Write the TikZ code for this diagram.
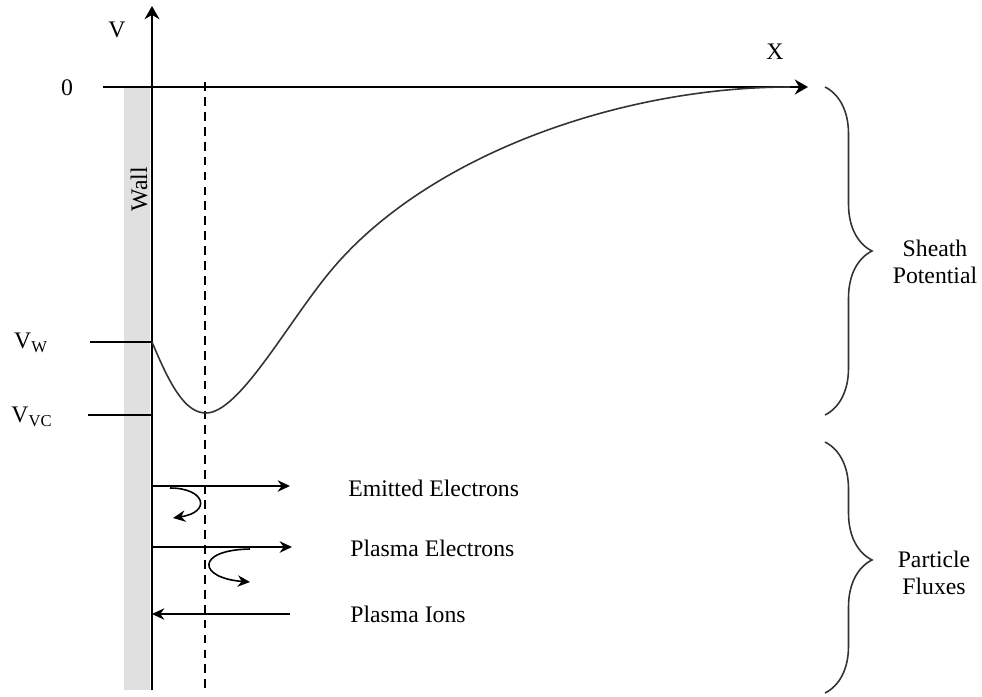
\documentclass[tikz,border=0pt]{standalone}
\usepackage{fontspec}
\setmainfont{Liberation Serif}
\usepackage{tikz}
\usetikzlibrary{arrows.meta, positioning, decorations.pathreplacing, calc}
\definecolor{wallgray}{HTML}{E0E0E0}
\definecolor{curvegray}{HTML}{333333}

\begin{document}
\begin{tikzpicture}[x=0.02cm, y=-0.02cm, font=\fontsize{13.5}{15}\selectfont,
  axis/.style={line width=1.7pt, -{Stealth[length=7.5pt, width=8.5pt]}},
  flux/.style={line width=1.1pt, -{Stealth[length=7pt, width=6.5pt]}},
  tick/.style={line width=1.1pt},
  bracebig/.style={decorate, decoration={brace, amplitude=0.94cm, aspect=#1}, line width=0.9pt, curvegray},
  lbl/.style={inner sep=0pt}]
  \useasboundingbox (0,0) rectangle (982,696);

  % Wand
  \fill[wallgray] (124,87) rectangle (150,690);
  \node[lbl, rotate=90] (wall) at (139,189) {Wall};

  % Achsen
  \coordinate (vbot) at (152,690);
  \coordinate (vtop) at (152,6);
  \coordinate (xleft) at (103,87);
  \coordinate (xright) at (808,87);
  \draw[axis] (vbot) -- (vtop);
  \draw[axis] (xleft) -- (xright);
  \node[lbl] (vlab) at (117,30) {V};
  \node[lbl] (xlab) at (775,52) {X};
  \node[lbl] (zero) at (67,88) {0};

  % virtuelle Kathode
  \coordinate (vctop) at (205,82);
  \coordinate (vcbot) at (205,690);
  \draw[dashed, line width=0.6pt, dash pattern=on 5pt off 3.5pt] (vctop) -- (vcbot);

  % Potentialwerte
  \node[lbl] (vw) at (31,343) {V\textsubscript{W}};
  \node[lbl] (vvc) at (32,417) {V\textsubscript{VC}};
  \coordinate (vwend) at (152,342);
  \coordinate (vvcend) at (152,415);
  \draw[tick] (90,342) -- (vwend);
  \draw[tick] (88,415) -- (vvcend);

  % Potentialverlauf
  \coordinate (vmin) at (206,413);
  \draw[curvegray, line width=0.9pt] (vwend) .. controls (170,385) and (185,413) .. (vmin)
    .. controls (240,413) and (290,318) .. (334,267)
    .. controls (430,155) and (620,87) .. (790,87);

  % Klammern
  \draw[bracebig=0.5] (825,87) -- (825,415);
  \node[lbl, align=center] (sheath) at (935,262) {Sheath\\Potential};
  \draw[bracebig=0.47] (825,442) -- (825,693);
  \node[lbl, align=center] (fluxes) at (934,573) {Particle\\Fluxes};

  % Teilchenflüsse
  \coordinate (em-a) at (152,486);
  \coordinate (em-b) at (290,486);
  \coordinate (pe-a) at (152,547);
  \coordinate (pe-b) at (292,547);
  \coordinate (pi-a) at (290,614);
  \coordinate (pi-b) at (152,614);
  \draw[flux] (em-a) -- (em-b);
  \draw[flux] (pe-a) -- (pe-b);
  \draw[flux] (pi-a) -- (pi-b);
  \node[lbl, anchor=west] (emlab) at (348,488) {Emitted Electrons};
  \node[lbl, anchor=west] (pelab) at (350,548) {Plasma Electrons};
  \node[lbl, anchor=west] (pilab) at (350,614) {Plasma Ions};

  % reflektierte Elektronen
  \draw[flux, line width=0.9pt] (170,488) .. controls (205,488) and (212,512) .. (173,518);
  \draw[flux, line width=0.9pt] (250,549) .. controls (195,550) and (198,578) .. (250,582);
\end{tikzpicture}
\end{document}
